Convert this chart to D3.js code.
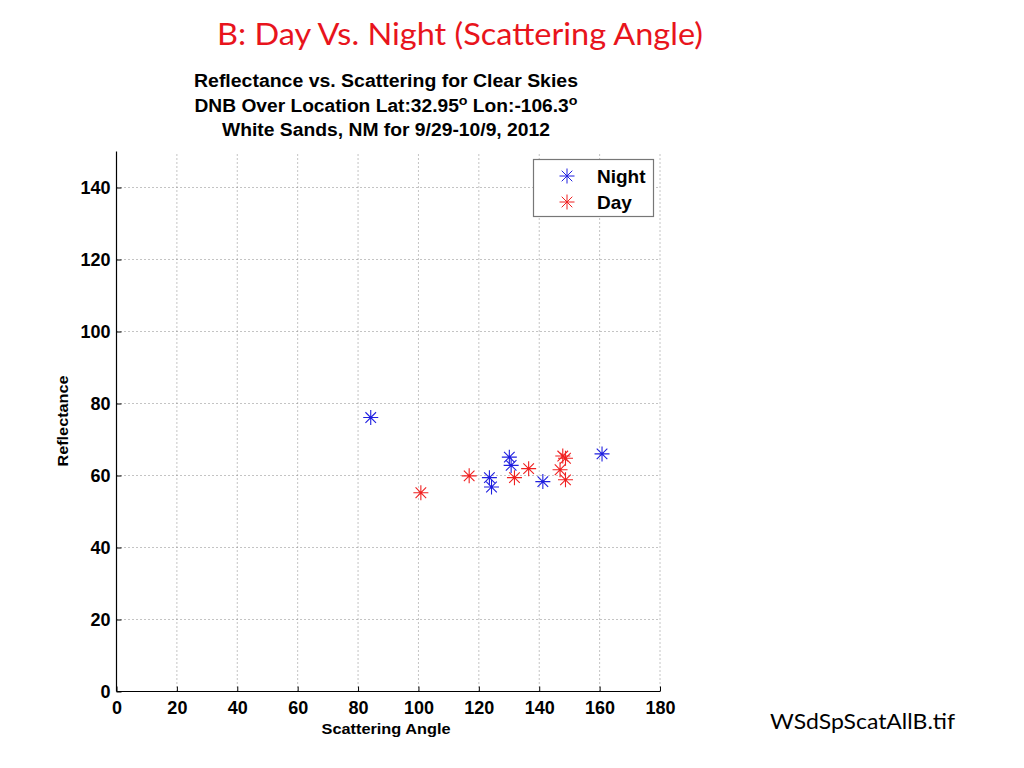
<!DOCTYPE html>
<html>
<head>
<meta charset="utf-8">
<script src="https://cdn.jsdelivr.net/npm/d3@7"></script>
<style>
  body { margin: 0; background: #fff; }
  svg { display: block; }
</style>
</head>
<body>
<div id="chart"></div>
<script>
// Datos
const nightAngle = [84.2, 123.5, 124.2, 130.1, 130.7, 141.2, 160.8];
const nightRefl  = [76.1, 59.4, 56.8, 65.1, 62.8, 58.3, 66.0];
const dayAngle   = [100.8, 116.8, 131.8, 136.5, 146.9, 147.8, 148.7, 148.7];
const dayRefl    = [55.2, 59.9, 59.4, 61.9, 61.6, 65.4, 64.8, 58.8];
const xTicks = [0, 20, 40, 60, 80, 100, 120, 140, 160, 180];
const yTicks = [0, 20, 40, 60, 80, 100, 120, 140];
const seriesNames = ["Night", "Day"];
const seriesColors = ["#1f1fe0", "#f02020"];

const width = 1024, height = 768;
const svg = d3.select("#chart").append("svg")
  .attr("width", width)
  .attr("height", height);

// Escalas
const x = d3.scaleLinear().domain([0, 180]).range([116.5, 660]);
const y = d3.scaleLinear().domain([0, 150]).range([691.5, 151.5]);

// Título de la diapositiva
svg.append("text")
  .attr("x", 460).attr("y", 45)
  .attr("text-anchor", "middle")
  .attr("font-family", "Lato, 'Open Sans', sans-serif")
  .attr("font-size", 30)
  .attr("fill", "#e8141c")
  .attr("textLength", 486)
  .attr("lengthAdjust", "spacingAndGlyphs")
  .text("B: Day Vs. Night (Scattering Angle)");

// Título del gráfico (tres líneas)
const tFont = "'Liberation Sans', Arial, sans-serif";
const t = svg.append("g")
  .attr("font-family", tFont)
  .attr("font-weight", "bold")
  .attr("font-size", 17.5)
  .attr("text-anchor", "middle")
  .attr("fill", "#000");
t.append("text").attr("x", 386).attr("y", 86.5)
  .attr("textLength", 384).attr("lengthAdjust", "spacingAndGlyphs")
  .text("Reflectance vs. Scattering for Clear Skies");
const l2 = t.append("text").attr("x", 386).attr("y", 111.5)
  .attr("textLength", 383).attr("lengthAdjust", "spacingAndGlyphs");
l2.append("tspan").text("DNB Over Location Lat:32.95");
l2.append("tspan").attr("dy", -7).attr("font-size", 13).text("o");
l2.append("tspan").attr("dy", 7).text(" Lon:-106.3");
l2.append("tspan").attr("dy", -7).attr("font-size", 13).text("o");
t.append("text").attr("x", 386).attr("y", 136)
  .attr("textLength", 328).attr("lengthAdjust", "spacingAndGlyphs")
  .text("White Sands, NM for 9/29-10/9, 2012");

// Rejilla punteada
const grid = svg.append("g")
  .attr("stroke", "#888")
  .attr("stroke-width", 1)
  .attr("stroke-dasharray", "1,3");
grid.selectAll(".gx").data(xTicks.filter(d => d > 0)).enter().append("line")
  .attr("x1", d => x(d)).attr("x2", d => x(d))
  .attr("y1", y(0)).attr("y2", y(150));
grid.selectAll(".gy").data(yTicks.filter(d => d > 0)).enter().append("line")
  .attr("x1", x(0)).attr("x2", x(180))
  .attr("y1", d => y(d)).attr("y2", d => y(d));

// Ejes (marcas hacia dentro, como en MATLAB)
const xAxis = svg.append("g")
  .attr("transform", `translate(0,${y(0)})`)
  .call(d3.axisBottom(x).tickValues(xTicks).tickSizeInner(-5).tickSizeOuter(0).tickPadding(10));
const yAxis = svg.append("g")
  .attr("transform", `translate(${x(0)},0)`)
  .call(d3.axisLeft(y).tickValues(yTicks).tickSizeInner(-5).tickSizeOuter(0).tickPadding(6));
[xAxis, yAxis].forEach(a => {
  a.select(".domain").attr("stroke", "#000").attr("stroke-width", 1.2);
  a.selectAll(".tick line").attr("stroke", "#000");
  a.selectAll("text")
    .attr("font-family", tFont)
    .attr("font-weight", "bold")
    .attr("font-size", 18)
    .attr("fill", "#000");
});
// Prolongamos el eje Y hasta 150
yAxis.select(".domain").attr("d", `M0,${y(0)}V${y(150)}`);
xAxis.select(".domain").attr("d", `M${x(0)},0H${x(180)}`);

// Etiquetas de los ejes
svg.append("text")
  .attr("x", 386).attr("y", 734)
  .attr("text-anchor", "middle")
  .attr("font-family", tFont).attr("font-weight", "bold").attr("font-size", 15)
  .attr("textLength", 129).attr("lengthAdjust", "spacingAndGlyphs")
  .text("Scattering Angle");
svg.append("text")
  .attr("transform", `translate(68,421) rotate(-90)`)
  .attr("text-anchor", "middle")
  .attr("font-family", tFont).attr("font-weight", "bold").attr("font-size", 14.5)
  .attr("textLength", 91).attr("lengthAdjust", "spacingAndGlyphs")
  .text("Reflectance");

// Marcador asterisco
function asterisk(sel, r) {
  const a = r * Math.SQRT1_2;
  sel.append("path")
    .attr("d", `M${-r},0H${r}M0,${-r}V${r}M${-a},${-a}L${a},${a}M${-a},${a}L${a},${-a}`);
}

const series = [
  nightAngle.map((v, i) => ({ x: v, y: nightRefl[i] })),
  dayAngle.map((v, i) => ({ x: v, y: dayRefl[i] }))
];

series.forEach((pts, s) => {
  const g = svg.append("g")
    .attr("stroke", seriesColors[s])
    .attr("stroke-width", 1.1)
    .attr("fill", "none");
  g.selectAll("g").data(pts).enter().append("g")
    .attr("transform", d => `translate(${x(d.x)},${y(d.y)})`)
    .each(function () { asterisk(d3.select(this), 7.5); });
});

// Leyenda
const leg = svg.append("g");
leg.append("rect")
  .attr("x", 533.5).attr("y", 159.5)
  .attr("width", 120).attr("height", 57)
  .attr("fill", "#fff").attr("stroke", "#777").attr("stroke-width", 1.2);
seriesNames.forEach((name, i) => {
  const cy = 176 + i * 26;
  const m = leg.append("g")
    .attr("transform", `translate(567,${cy})`)
    .attr("stroke", seriesColors[i]).attr("stroke-width", 1).attr("fill", "none");
  asterisk(m, 7.5);
  leg.append("text")
    .attr("x", 597).attr("y", cy + 7)
    .attr("font-family", tFont).attr("font-weight", "bold").attr("font-size", 19)
    .text(name);
});

// Nombre del fichero
svg.append("text")
  .attr("x", 770).attr("y", 729)
  .attr("font-family", "Lato, 'Open Sans', sans-serif")
  .attr("font-size", 22)
  .attr("fill", "#000")
  .attr("textLength", 185).attr("lengthAdjust", "spacingAndGlyphs")
  .text("WSdSpScatAllB.tif");
</script>
</body>
</html>
